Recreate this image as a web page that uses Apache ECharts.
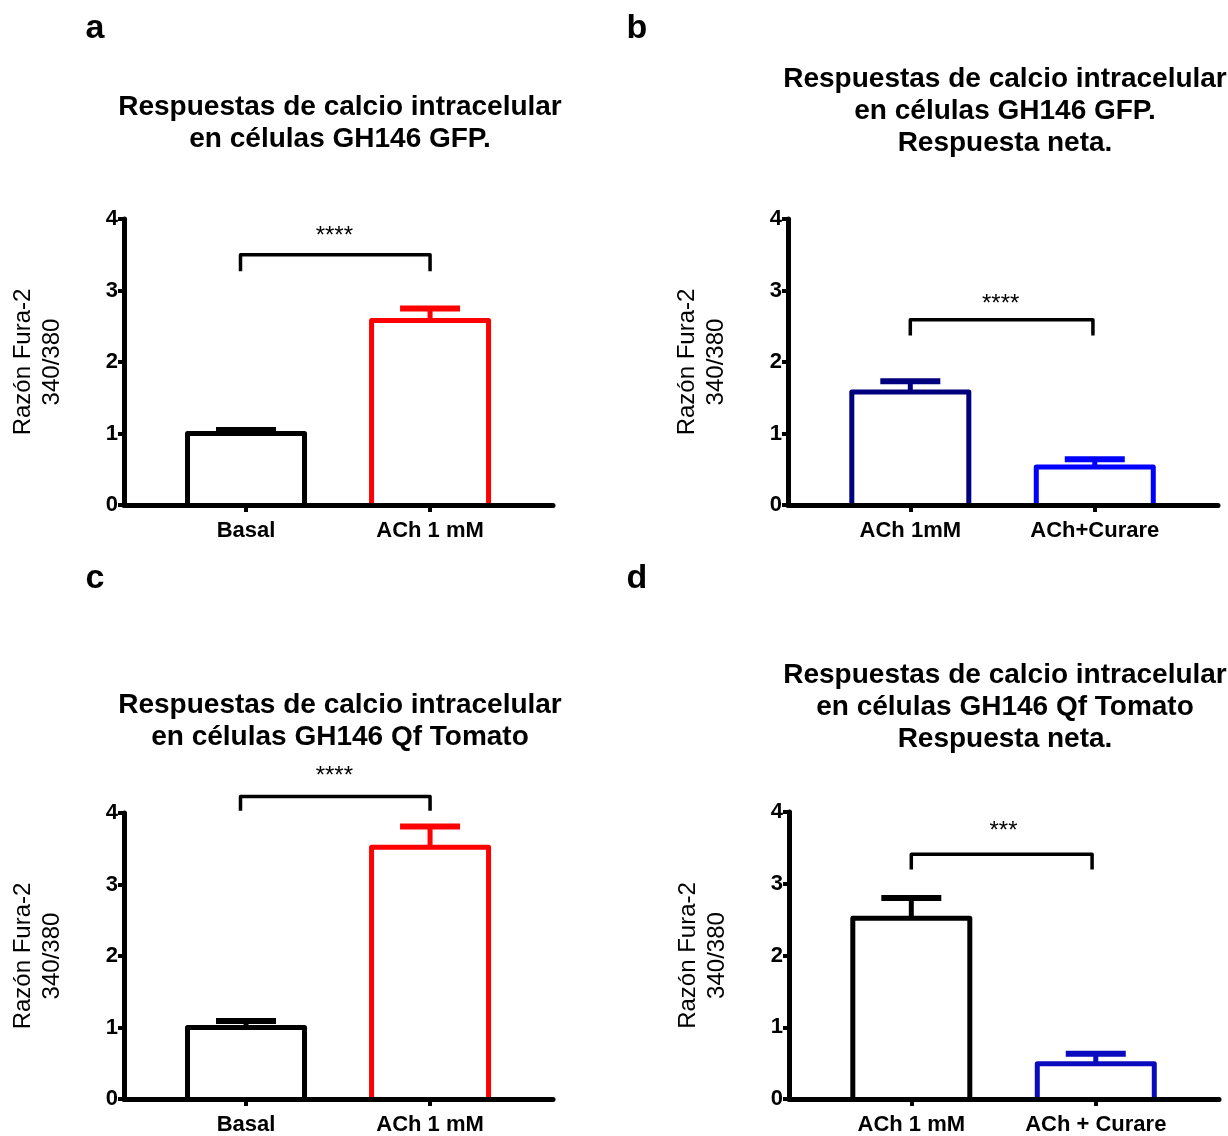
<!DOCTYPE html>
<html>
<head>
<meta charset="utf-8">
<script src="https://cdn.jsdelivr.net/npm/echarts@6/dist/echarts.min.js"></script>
<style>
  html, body { margin: 0; padding: 0; background: #fff; }
  #chart { width: 1228px; height: 1136px; }
</style>
</head>
<body>
<div id="chart"></div>
<script>
// ---------- data ----------
const catsA = ['Basal', 'ACh 1 mM'];
const meansA = [1.00, 2.58];
const upperA = [1.05, 2.75];
const colorsA = ['#000000', '#ff0000'];

const catsB = ['ACh 1mM', 'ACh+Curare'];
const meansB = [1.58, 0.53];
const upperB = [1.73, 0.64];
const colorsB = ['#00007f', '#0000ff'];

const catsC = ['Basal', 'ACh 1 mM'];
const meansC = [1.00, 3.52];
const upperC = [1.09, 3.81];
const colorsC = ['#000000', '#ff0000'];

const catsD = ['ACh 1 mM', 'ACh + Curare'];
const meansD = [2.52, 0.49];
const upperD = [2.80, 0.63];
const colorsD = ['#000000', '#0a0abe'];

// significance brackets: [xLeft, xRight, yTop, yLeg]
const bracketA = [0.97, 2.00, 3.50, 3.27];
const bracketB = [1.00, 1.99, 2.59, 2.37];
const bracketC = [0.97, 2.00, 4.23, 4.03];
const bracketD = [1.00, 1.98, 3.41, 3.20];
// significance labels: [x, y, text]
const sigA = [1.48, 3.76, '****'];
const sigB = [1.49, 2.81, '****'];
const sigC = [1.48, 4.51, '****'];
const sigD = [1.50, 3.73, '***'];

const titles = [
  'Respuestas de calcio intracelular\nen células GH146 GFP.',
  'Respuestas de calcio intracelular\nen células GH146 GFP.\nRespuesta neta.',
  'Respuestas de calcio intracelular\nen células GH146 Qf Tomato',
  'Respuestas de calcio intracelular\nen células GH146 Qf Tomato\nRespuesta neta.'
];
const letters = ['a', 'b', 'c', 'd'];
const yTicks = [0, 1, 2, 3, 4];
const yName = 'Razón Fura-2\n340/380';

// ---------- layout ----------
const FONT = "'Liberation Sans', Arial, Helvetica, sans-serif";
const XMIN = 0.337, XMAX = 2.668;
const BAR_W = 117;
const panels = [
  { cats: catsA, means: meansA, upper: upperA, colors: colorsA, bracket: bracketA, sig: sigA,
    grid: { left: 124, top: 219, width: 429, height: 286 }, titleX: 335, titleTop: 86 },
  { cats: catsB, means: meansB, upper: upperB, colors: colorsB, bracket: bracketB, sig: sigB,
    grid: { left: 788, top: 219, width: 430, height: 286 }, titleX: 1000, titleTop: 58 },
  { cats: catsC, means: meansC, upper: upperC, colors: colorsC, bracket: bracketC, sig: sigC,
    grid: { left: 124, top: 813, width: 429, height: 286 }, titleX: 335, titleTop: 684 },
  { cats: catsD, means: meansD, upper: upperD, colors: colorsD, bracket: bracketD, sig: sigD,
    grid: { left: 789, top: 812, width: 430, height: 287 }, titleX: 1000, titleTop: 654 }
];
const letterPos = [[95, 29], [637, 29], [95, 579], [637, 579]];

const grid = [], xAxis = [], yAxis = [], series = [], title = [], graphic = [];

panels.forEach((p, i) => {
  grid.push(Object.assign({ containLabel: false }, p.grid));
  const positions = p.cats.map((c, k) => k + 1);
  xAxis.push({
    type: 'value', gridIndex: i, min: XMIN, max: XMAX, z: 5,
    splitLine: { show: false },
    axisLine: { show: true, onZero: false, lineStyle: { color: '#000', width: 5 } },
    axisTick: { show: true, customValues: positions, length: 7, lineStyle: { color: '#000', width: 4 } },
    axisLabel: {
      show: true, customValues: positions, margin: 15,
      formatter: v => p.cats[Math.round(v) - 1],
      color: '#000', fontFamily: FONT, fontWeight: 'bold', fontSize: 22
    }
  });
  yAxis.push({
    type: 'value', gridIndex: i, min: yTicks[0], max: yTicks[yTicks.length - 1], interval: 1, z: 5,
    splitLine: { show: false },
    axisLine: { show: true, lineStyle: { color: '#000', width: 5 } },
    axisTick: { show: true, length: 6, lineStyle: { color: '#000', width: 4 } },
    axisLabel: { margin: 6, color: '#000', fontFamily: FONT, fontWeight: 'bold', fontSize: 22 },
    name: yName, nameLocation: 'middle', nameRotate: 90, nameGap: 57,
    nameTextStyle: { color: '#000', fontFamily: FONT, fontSize: 24, lineHeight: 29 }
  });
  // bars (open-bottom outlined columns)
  series.push({
    type: 'custom', xAxisIndex: i, yAxisIndex: i, z: 2,
    data: p.means.map((m, k) => [positions[k], m, k]),
    renderItem: (params, api) => {
      const x = api.value(0), m = api.value(1), k = api.value(2);
      const top = api.coord([x, m]), base = api.coord([x, 0]);
      const l = top[0] - BAR_W / 2, r = top[0] + BAR_W / 2;
      return {
        type: 'group', children: [
          { type: 'rect', shape: { x: l, y: top[1], width: BAR_W, height: base[1] - top[1] },
            style: { fill: '#fff' } },
          { type: 'polyline', shape: { points: [[l, base[1]], [l, top[1]], [r, top[1]], [r, base[1]]] },
            style: { stroke: p.colors[k], lineWidth: 5, fill: null, lineJoin: 'round' } }
        ]
      };
    },
    animation: false, silent: true
  });
  // error bars (mean -> upper SEM)
  series.push({
    type: 'custom', xAxisIndex: i, yAxisIndex: i, z: 3,
    data: p.means.map((m, k) => [positions[k], m, p.upper[k], k]),
    renderItem: (params, api) => {
      const x = api.value(0), m = api.value(1), u = api.value(2), k = api.value(3);
      const p0 = api.coord([x, m]), p1 = api.coord([x, u]);
      const col = p.colors[k];
      return {
        type: 'group', children: [
          { type: 'line', shape: { x1: p0[0], y1: p0[1], x2: p1[0], y2: p1[1] },
            style: { stroke: col, lineWidth: 5 } },
          { type: 'line', shape: { x1: p1[0] - 30, y1: p1[1], x2: p1[0] + 30, y2: p1[1] },
            style: { stroke: col, lineWidth: 6 } }
        ]
      };
    },
    animation: false, silent: true
  });
  // significance bracket and stars
  series.push({
    type: 'custom', xAxisIndex: i, yAxisIndex: i, z: 3, clip: false,
    data: [[p.bracket[0], p.bracket[1], p.bracket[2], p.bracket[3], p.sig[0], p.sig[1]]],
    renderItem: (params, api) => {
      const xl = api.value(0), xr = api.value(1), yt = api.value(2), yl = api.value(3);
      const a = api.coord([xl, yl]), b = api.coord([xl, yt]), c = api.coord([xr, yt]), d = api.coord([xr, yl]);
      const s = api.coord([api.value(4), api.value(5)]);
      return {
        type: 'group', children: [
          { type: 'polyline', shape: { points: [a, b, c, d] },
            style: { stroke: '#000', lineWidth: 3.5, fill: null, lineJoin: 'round' } },
          { type: 'text', x: s[0], y: s[1],
            style: { text: p.sig[2], fill: '#000', font: '24px ' + FONT, align: 'center', verticalAlign: 'middle' } }
        ]
      };
    },
    animation: false, silent: true
  });
  title.push({
    text: titles[i], left: p.titleX, top: p.titleTop, textAlign: 'center',
    textStyle: { color: '#000', fontFamily: FONT, fontWeight: 'bold', fontSize: 28, lineHeight: 32 }
  });
  graphic.push({
    type: 'text', x: letterPos[i][0], y: letterPos[i][1],
    style: { text: letters[i], fill: '#000', font: 'bold 34px ' + FONT, align: 'center', verticalAlign: 'middle' }
  });
});

const chart = echarts.init(document.getElementById('chart'), null, { renderer: 'canvas' });
chart.setOption({
  backgroundColor: '#ffffff',
  animation: false,
  title, grid, xAxis, yAxis, series, graphic
});
</script>
</body>
</html>
